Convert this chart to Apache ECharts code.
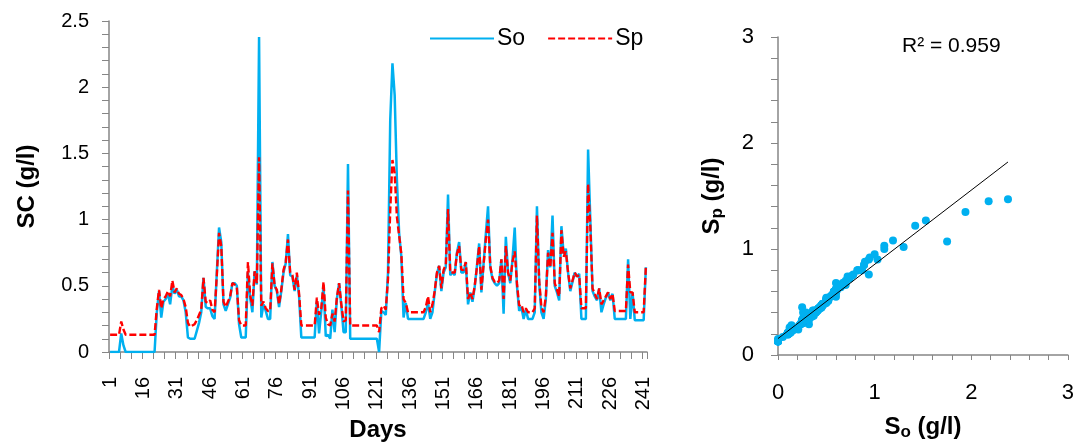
<!DOCTYPE html>
<html>
<head>
<meta charset="utf-8">
<script src="https://cdn.jsdelivr.net/npm/echarts@6/dist/echarts.min.js"></script>
<style>
html,body{margin:0;padding:0;background:#fff;}
#c{width:1077px;height:448px;}
</style>
</head>
<body>
<div id="c"></div>
<script>
// ---- data ----
const dayCount = 242;
const days = [];
for (let d = 1; d <= dayCount; d++) days.push(String(d));

// observed salt concentration So (g/l), days 1..242
const soValues = [
  0,0,0,0,0,0.14,0.05,0,0,0,
  0,0,0,0,0,0,0,0,0,0,
  0,0.3,0.46,0.26,0.38,0.4,0.44,0.36,0.5,0.44,
  0.47,0.42,0.42,0.39,0.3,0.11,0.1,0.1,0.1,0.16,
  0.22,0.3,0.56,0.34,0.33,0.33,0.27,0.25,0.6,0.94,
  0.83,0.36,0.31,0.36,0.41,0.52,0.52,0.5,0.21,0.11,
  0.11,0.11,0.6,0.41,0.3,0.61,0.51,2.38,0.26,0.36,
  0.31,0.25,0.25,0.68,0.5,0.46,0.34,0.46,0.6,0.67,
  0.89,0.58,0.57,0.46,0.58,0.42,0.11,0.11,0.11,0.11,
  0.11,0.11,0.11,0.38,0.14,0.31,0.5,0.12,0.13,0.1,
  0.32,0.15,0.4,0.52,0.35,0.15,0.15,1.42,0.1,0.1,
  0.1,0.1,0.1,0.1,0.1,0.1,0.1,0.1,0.1,0.1,
  0.1,0,0.31,0.3,0.28,0.6,1.75,2.18,1.94,1.3,
  0.9,0.72,0.26,0.37,0.25,0.25,0.25,0.25,0.25,0.25,
  0.25,0.25,0.3,0.37,0.25,0.3,0.45,0.59,0.65,0.46,
  0.6,0.64,1.19,0.58,0.6,0.58,0.75,0.83,0.6,0.6,
  0.68,0.36,0.45,0.38,0.49,0.65,0.82,0.45,0.67,0.89,
  1.1,0.64,0.55,0.52,0.5,0.52,0.7,0.29,0.87,0.6,
  0.52,0.7,0.94,0.5,0.31,0.34,0.25,0.32,0.25,0.25,
  0.25,0.3,1.1,0.52,0.3,0.25,0.4,0.77,0.64,1.03,
  0.5,0.45,0.39,0.95,0.74,0.78,0.6,0.46,0.53,0.6,
  0.57,0.59,0.25,0.25,0.25,1.53,1.0,0.46,0.42,0.39,
  0.48,0.3,0.36,0.41,0.45,0.39,0.44,0.25,0.25,0.25,
  0.25,0.25,0.25,0.7,0.25,0.45,0.24,0.24,0.24,0.24,
  0.24,0.64
];

// predicted salt concentration Sp (g/l), days 1..242
const spValues = [
  0.13,0.13,0.13,0.13,0.13,0.23,0.17,0.13,0.13,0.13,
  0.13,0.13,0.13,0.13,0.13,0.13,0.13,0.13,0.13,0.13,
  0.13,0.33,0.47,0.33,0.4,0.42,0.46,0.42,0.54,0.45,
  0.48,0.44,0.43,0.4,0.34,0.22,0.19,0.2,0.21,0.24,
  0.28,0.32,0.56,0.38,0.37,0.39,0.32,0.3,0.58,0.9,
  0.8,0.38,0.34,0.38,0.42,0.52,0.51,0.49,0.24,0.2,
  0.2,0.2,0.68,0.43,0.35,0.61,0.52,1.47,0.35,0.38,
  0.33,0.31,0.31,0.67,0.5,0.47,0.36,0.47,0.62,0.68,
  0.85,0.6,0.58,0.47,0.6,0.44,0.2,0.2,0.2,0.2,
  0.2,0.2,0.2,0.41,0.28,0.33,0.53,0.26,0.21,0.2,
  0.29,0.23,0.41,0.52,0.36,0.23,0.24,1.22,0.2,0.2,
  0.2,0.2,0.2,0.2,0.2,0.2,0.2,0.2,0.2,0.2,
  0.2,0.15,0.33,0.35,0.32,0.55,1.07,1.45,1.35,1.02,
  0.88,0.74,0.4,0.37,0.3,0.3,0.3,0.3,0.3,0.3,
  0.3,0.3,0.34,0.42,0.3,0.36,0.46,0.6,0.65,0.48,
  0.62,0.66,1.08,0.6,0.6,0.6,0.74,0.8,0.62,0.62,
  0.68,0.4,0.45,0.4,0.5,0.64,0.8,0.47,0.66,0.85,
  1.0,0.65,0.56,0.53,0.52,0.54,0.7,0.4,0.8,0.6,
  0.54,0.68,0.76,0.52,0.35,0.36,0.3,0.33,0.3,0.3,
  0.3,0.33,1.03,0.54,0.34,0.3,0.42,0.75,0.64,0.9,
  0.52,0.47,0.42,0.92,0.72,0.76,0.6,0.48,0.54,0.6,
  0.57,0.58,0.33,0.33,0.33,1.27,0.95,0.48,0.44,0.4,
  0.48,0.36,0.39,0.42,0.45,0.4,0.44,0.31,0.31,0.31,
  0.31,0.31,0.31,0.66,0.45,0.45,0.3,0.3,0.3,0.3,
  0.3,0.65
];

// linear trend line of the scatter
const trendIntercept = 0.155;
const trendSlope = 0.70;
const r2Label = 'R\u00B2 = 0.959';

const leftYTicks = { min: 0, max: 2.5, interval: 0.5 };
const rightTicks = { min: 0, max: 3, interval: 1 };

// ---- chart ----
const FONT = "'Liberation Sans', Arial, sans-serif";
const AXIS_GRAY = '#868686';
const SO_COLOR = '#00B0F0';
const SP_COLOR = '#FF0000';

const scatterData = soValues.map((v, i) => [v, spValues[i]]);
const soMax = Math.max.apply(null, soValues);
const trendData = [[0, trendIntercept], [soMax, trendIntercept + trendSlope * soMax]];

const chart = echarts.init(document.getElementById('c'), null, { renderer: 'canvas' });

const axisLineStyle = { show: true, lineStyle: { color: AXIS_GRAY, width: 1.5 } };
const tickStyle = { color: AXIS_GRAY, width: 1 };

chart.setOption({
  animation: false,
  backgroundColor: '#fff',
  textStyle: { fontFamily: FONT },
  legend: {
    left: 424, top: 22,
    itemWidth: 64, itemHeight: 14, itemGap: 22,
    itemStyle: { opacity: 0 },
    textStyle: { fontSize: 23, color: '#000', fontFamily: FONT, padding: [0, 0, 0, -2] },
    data: ['So', 'Sp']
  },
  grid: [
    { left: 109, top: 21, width: 538, height: 331, containLabel: false },
    { left: 778, top: 37, width: 291, height: 318, containLabel: false }
  ],
  xAxis: [
    {
      gridIndex: 0, type: 'category', data: days, boundaryGap: true,
      axisLine: axisLineStyle,
      axisTick: { show: true, interval: 4, length: 7, lineStyle: tickStyle },
      axisLabel: { interval: 14, rotate: 90, fontSize: 20, color: '#000', margin: 25, fontFamily: FONT },
      splitLine: { show: false },
      name: 'Days', nameLocation: 'middle', nameGap: 66,
      nameTextStyle: { fontSize: 24, fontWeight: 'bold', color: '#000', fontFamily: FONT }
    },
    {
      gridIndex: 1, type: 'value', min: rightTicks.min, max: rightTicks.max, interval: rightTicks.interval,
      axisLine: axisLineStyle,
      axisTick: { show: true, length: 5, lineStyle: tickStyle },
      minorTick: { show: true, splitNumber: 5, length: 5, lineStyle: tickStyle },
      axisLabel: { fontSize: 22, color: '#000', margin: 27, fontFamily: FONT },
      splitLine: { show: false }, minorSplitLine: { show: false },
      name: '{m|S}{s|o}{m| (g/l)}', nameLocation: 'middle', nameGap: 60,
      nameTextStyle: {
        rich: {
          m: { fontSize: 24, fontWeight: 'bold', color: '#000', fontFamily: FONT, lineHeight: 26, verticalAlign: 'top' },
          s: { fontSize: 17, fontWeight: 'bold', color: '#000', fontFamily: FONT, lineHeight: 17, padding: [14,0,0,0], verticalAlign: 'bottom' }
        }
      }
    }
  ],
  yAxis: [
    {
      gridIndex: 0, type: 'value', min: leftYTicks.min, max: leftYTicks.max, interval: leftYTicks.interval,
      axisLine: axisLineStyle,
      axisTick: { show: true, length: 7, lineStyle: tickStyle },
      minorTick: { show: true, splitNumber: 5, length: 7, lineStyle: tickStyle },
      axisLabel: { fontSize: 20, color: '#000', margin: 20, fontFamily: FONT },
      splitLine: { show: false }, minorSplitLine: { show: false },
      name: 'SC (g/l)', nameLocation: 'middle', nameGap: 70,
      nameTextStyle: { fontSize: 24, fontWeight: 'bold', color: '#000', fontFamily: FONT }
    },
    {
      gridIndex: 1, type: 'value', min: rightTicks.min, max: rightTicks.max, interval: rightTicks.interval,
      axisLine: axisLineStyle,
      axisTick: { show: true, length: 7, lineStyle: tickStyle },
      minorTick: { show: true, splitNumber: 5, length: 7, lineStyle: tickStyle },
      axisLabel: { fontSize: 22, color: '#000', margin: 24, fontFamily: FONT },
      splitLine: { show: false }, minorSplitLine: { show: false },
      name: '{m|S}{s|p}{m| (g/l)}', nameLocation: 'middle', nameGap: 52,
      nameTextStyle: {
        rich: {
          m: { fontSize: 24, fontWeight: 'bold', color: '#000', fontFamily: FONT, lineHeight: 26, verticalAlign: 'top' },
          s: { fontSize: 17, fontWeight: 'bold', color: '#000', fontFamily: FONT, lineHeight: 17, padding: [14,0,0,0], verticalAlign: 'bottom' }
        }
      }
    }
  ],
  graphic: [
    {
      type: 'text', left: 902, top: 36, silent: true,
      style: { text: r2Label, fontSize: 21, fill: '#000', fontFamily: FONT }
    }
  ],
  series: [
    {
      name: 'So', type: 'line', xAxisIndex: 0, yAxisIndex: 0, data: soValues,
      symbol: 'none', showSymbol: false, smooth: false,
      lineStyle: { color: SO_COLOR, width: 2.5 }, itemStyle: { color: SO_COLOR }, z: 2
    },
    {
      name: 'Sp', type: 'line', xAxisIndex: 0, yAxisIndex: 0, data: spValues,
      symbol: 'none', showSymbol: false, smooth: false,
      lineStyle: { color: SP_COLOR, width: 2.4, type: [7, 3] }, itemStyle: { color: SP_COLOR }, z: 3
    },
    {
      name: 'scatter', type: 'scatter', xAxisIndex: 1, yAxisIndex: 1, data: scatterData,
      symbol: 'circle', symbolSize: 8, itemStyle: { color: SO_COLOR, opacity: 1 }, z: 2
    },
    {
      name: 'trend', type: 'line', xAxisIndex: 1, yAxisIndex: 1, data: trendData,
      symbol: 'none', lineStyle: { color: '#000', width: 1 }, z: 3
    }
  ]
});
</script>
</body>
</html>
